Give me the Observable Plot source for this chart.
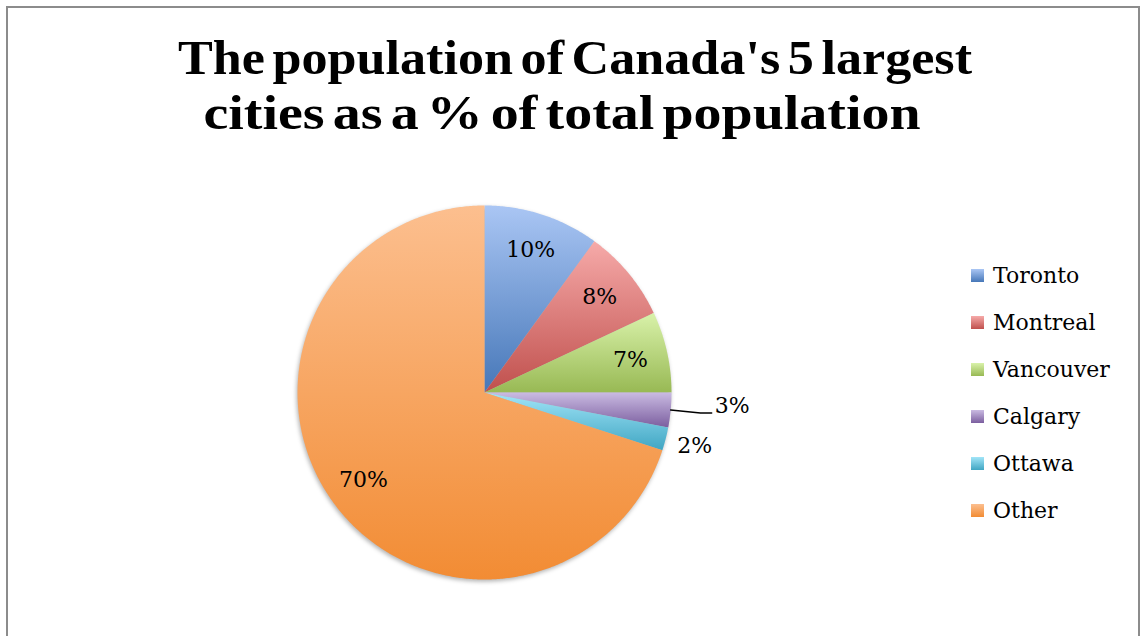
<!DOCTYPE html>
<html>
<head>
<meta charset="utf-8">
<script src="https://cdn.jsdelivr.net/npm/d3@7"></script>
<script src="https://cdn.jsdelivr.net/npm/@observablehq/plot@0.6"></script>
<style>
  html, body { margin: 0; padding: 0; background: #fff; }
  #chart { position: relative; width: 1141px; height: 636px; overflow: hidden; background: #fff; }
  #frame { position: absolute; left: 6px; top: 6px; width: 1134px; height: 720px;
           border: 2px solid #8c8c8c; box-sizing: border-box; }
  #title { position: absolute; left: 0; top: 0; }
  #pie { position: absolute; }
  #legend { position: absolute; left: 971px; top: 252px; font-family: "DejaVu Serif", serif;
            font-size: 22px; color: #000; }
  .row { display: flex; align-items: center; height: 47px; line-height: 47px; white-space: nowrap; }
  .key { width: 13px; height: 13px; margin-right: 9px; }
</style>
</head>
<body>
<div id="chart">
  <div id="frame"></div>
  <svg id="title" width="1141" height="150"></svg>
  <div id="pie"></div>
  <div id="legend"></div>
</div>
<script>
// City shares of Canada's total population (percent)
const cities = ["Toronto", "Montreal", "Vancouver", "Calgary", "Ottawa", "Other"];
const shares = [10, 8, 7, 3, 2, 70];
const shareLabels = ["10%", "8%", "7%", "3%", "2%", "70%"];

// Gradient palette: light top stop, saturated bottom stop
const lightStops = ["#aac6f4", "#f6aaa9", "#d9f2aa", "#cabbe2", "#a2e5f8", "#fcbf8f"];
const darkStops  = ["#4677b8", "#c0504d", "#98b954", "#7b5e9f", "#40a6c3", "#f28c34"];

const titleLines = ["The population of Canada's 5 largest", "cities as a % of total population"];

// ---- Title ----
const titleSvg = d3.select("#title");
const titleSpec = [
  {cx: 575, baseline: 74, width: 794},
  {cx: 562, baseline: 129, width: 717}
];
titleLines.forEach((line, i) => {
  const s = titleSpec[i];
  titleSvg.append("text")
    .attr("x", s.cx).attr("y", s.baseline)
    .attr("text-anchor", "middle")
    .attr("font-family", "'Liberation Serif', serif")
    .attr("font-weight", "bold")
    .attr("font-size", 48)
    .attr("word-spacing", -5)
    .attr("textLength", s.width)
    .attr("lengthAdjust", "spacingAndGlyphs")
    .attr("fill", "#000")
    .text(line);
});

// ---- Pie ----
const R = 187;            // pie radius in px
const W = 600, H = 400;   // plot size
const cx = 483.5, cy = 392;

const rows = cities.map((name, i) => ({name, share: shares[i], label: shareLabels[i], i}));
const arcs = d3.pie().sort(null).value(d => d.share)(rows);

// Slice outlines in unit coordinates (0 rad = 12 o'clock, clockwise)
const slicePts = [];
arcs.forEach(a => {
  const {name, i} = a.data;
  slicePts.push({name, i, x: 0, y: 0});
  const span = a.endAngle - a.startAngle;
  const n = Math.max(4, Math.ceil(span / (Math.PI / 360)));
  for (let k = 0; k <= n; k++) {
    const t = a.startAngle + span * k / n;
    slicePts.push({name, i, x: Math.sin(t), y: Math.cos(t)});
  }
});

// Label placement
const inside = [], outside = [], leader = [];
arcs.forEach(a => {
  const d = a.data;
  const mid = (a.startAngle + a.endAngle) / 2;
  if (d.share >= 5) {
    inside.push({x: 0.8 * Math.sin(mid), y: 0.8 * Math.cos(mid), text: d.label});
  } else if (d.name === "Calgary") {
    const ex = 1.16 * Math.sin(mid), ey = 1.16 * Math.cos(mid);
    leader.push({x: Math.sin(mid), y: Math.cos(mid)}, {x: ex, y: ey}, {x: ex + 0.06, y: ey});
    outside.push({x: ex + 0.06, y: ey, text: d.label, anchor: "start"});
  } else {
    inside.push({x: 1.16 * Math.sin(mid), y: 1.16 * Math.cos(mid), text: d.label});
  }
});

const plot = Plot.plot({
  width: W, height: H,
  margin: 0,
  x: {domain: [-W / 2 / R, W / 2 / R], axis: null},
  y: {domain: [-H / 2 / R, H / 2 / R], axis: null},
  color: {type: "identity"},
  marks: [
    Plot.line(slicePts, {x: "x", y: "y", z: "name", fill: d => `url(#slice-${d.i})`, stroke: "none", curve: "linear"}),
    Plot.line(leader, {x: "x", y: "y", stroke: "#000", strokeWidth: 1.5}),
    Plot.text(inside, {x: "x", y: "y", text: "text", fontSize: 22, fontFamily: "DejaVu Serif", fill: "#000"}),
    Plot.text(outside, {x: "x", y: "y", text: "text", fontSize: 22, fontFamily: "DejaVu Serif", fill: "#000",
                        textAnchor: "start", dx: 3, dy: -7})
  ]
});

// Slice gradients
const defs = d3.select(plot).insert("defs", ":first-child");
rows.forEach((d, i) => {
  const g = defs.append("linearGradient").attr("id", `slice-${i}`)
    .attr("x1", 0).attr("y1", 0).attr("x2", 0).attr("y2", 1);
  g.append("stop").attr("offset", "0%").attr("stop-color", lightStops[i]);
  g.append("stop").attr("offset", "100%").attr("stop-color", darkStops[i]);
});
// soft shadow beneath the pie
d3.select(plot).select('g[aria-label="line"]')
  .style("filter", "drop-shadow(-1px 2px 2px rgba(0,0,0,0.3))");

const pieDiv = document.getElementById("pie");
pieDiv.style.left = (cx - W / 2) + "px";
pieDiv.style.top = (cy - H / 2) + "px";
pieDiv.appendChild(plot);

// ---- Legend ----
const legend = d3.select("#legend");
rows.forEach((d, i) => {
  const row = legend.append("div").attr("class", "row");
  row.append("div").attr("class", "key")
    .style("background", `linear-gradient(to bottom, ${lightStops[i]}, ${darkStops[i]})`);
  row.append("span").text(d.name);
});
</script>
</body>
</html>
